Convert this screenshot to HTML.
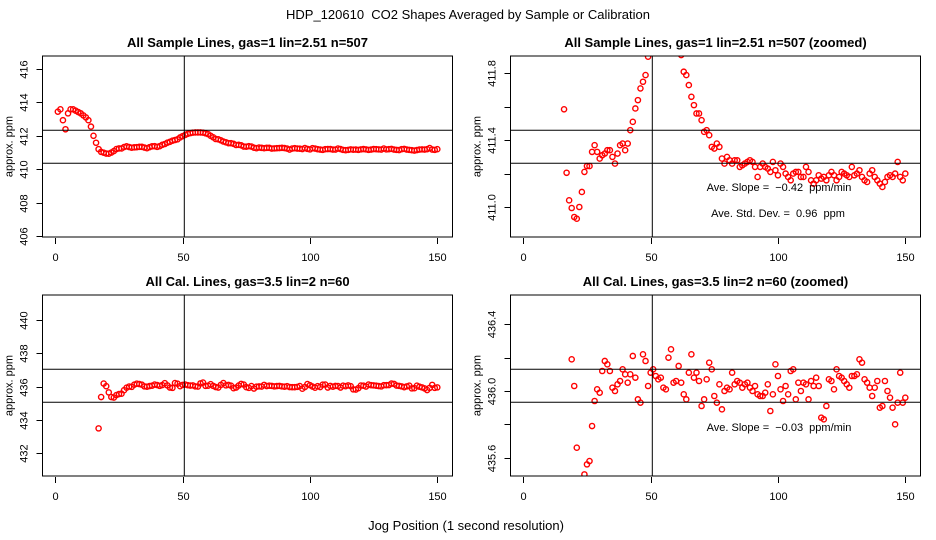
<!DOCTYPE html>
<html><head><meta charset="utf-8"><style>
html,body{margin:0;padding:0;background:#fff;width:936px;height:540px;overflow:hidden;}
svg{display:block;font-family:"Liberation Sans",sans-serif;}
text{white-space:pre;}
</style></head><body>
<svg id="chart" width="936" height="540" viewBox="0 0 936 540" xmlns="http://www.w3.org/2000/svg">
<text x="468" y="19" font-size="13" text-anchor="middle" xml:space="preserve">HDP_120610  CO2 Shapes Averaged by Sample or Calibration</text>
<text x="466" y="530" font-size="13" text-anchor="middle">Jog Position (1 second resolution)</text>
</svg>
<script>
const sampleX = [];
for (let i = 1; i <= 150; i++) sampleX.push(i);
const sampleVals = [413.44,413.58,412.93,412.39,413.34,413.58,413.58,413.5,413.42,413.34,413.22,413.1,412.93,412.55,412.0,
411.585,411.205,411.04,410.994,410.94,410.93,411.0,411.09,411.21,411.245,411.245,411.33,411.37,411.33,411.29,411.31,411.32,411.34,411.34,411.30,411.26,411.32,411.37,411.38,411.34,411.38,411.46,411.51,411.59,411.64,411.71,411.75,411.79,411.90,
411.98,412.05,412.12,412.16,412.19,412.2,412.2,412.2,412.19,412.15,412.1,412.0,
411.91,411.81,411.79,411.73,411.66,411.61,411.56,411.56,411.52,411.45,411.46,411.43,411.36,411.35,411.38,411.36,411.29,411.26,411.30,411.28,411.26,411.28,411.28,411.24,411.25,411.26,411.27,411.28,411.27,411.24,411.18,411.24,411.26,411.24,411.23,411.21,411.27,411.22,411.19,411.26,411.24,411.20,411.18,411.16,411.20,411.21,411.21,411.18,411.18,411.24,411.21,411.16,411.14,411.16,411.19,411.17,411.18,411.16,411.19,411.21,411.19,411.16,411.18,411.21,411.20,411.19,411.18,411.24,411.19,411.20,411.22,411.18,411.16,411.15,411.20,411.22,411.18,411.16,411.14,411.12,411.15,411.18,411.19,411.18,411.20,411.27,411.18,411.16,411.20];
const calX = [];
for (let i = 17; i <= 150; i++) calX.push(i);
const calVals = [433.5,435.38,436.19,436.03,435.66,435.38,435.35,435.50,435.56,435.58,435.79,435.94,436.01,435.99,436.12,436.18,436.16,436.12,436.02,436.0,436.04,436.06,436.13,436.10,436.05,436.10,436.21,436.08,435.95,435.93,436.22,436.18,436.03,436.11,436.13,436.09,436.07,436.08,436.02,436.01,436.20,436.25,436.05,436.06,436.15,436.05,435.98,435.95,436.11,436.22,436.08,436.11,436.06,435.91,435.95,436.07,436.17,436.13,435.97,435.93,436.04,435.89,436.0,436.02,436.01,436.11,436.04,436.06,436.05,436.02,436.04,436.05,436.02,436.0,436.03,435.98,435.97,435.97,435.99,436.04,435.88,435.98,436.16,436.09,436.01,435.94,436.03,435.98,436.12,436.13,435.95,436.05,436.0,436.05,436.04,435.95,436.06,436.03,436.08,436.03,435.84,435.83,435.91,436.07,436.06,436.01,436.13,436.09,436.08,436.06,436.04,436.02,436.09,436.09,436.10,436.19,436.17,436.07,436.05,436.02,435.97,436.02,436.06,435.90,435.91,436.06,436.0,435.96,435.90,435.80,435.93,436.11,435.93,435.96];
const xTicks = [0,50,100,150];
const tlTicks = [406,408,410,412,414,416];
const trTicks = [411.0,411.2,411.4,411.6,411.8];
const trLabels = ["411.0","","411.4","","411.8"];
const blTicks = [432,434,436,438,440];
const brTicks = [435.6,435.8,436.0,436.2,436.4];
const brLabels = ["435.6","","436.0","","436.4"];

const NS = "http://www.w3.org/2000/svg";
const svg = document.getElementById('chart');
function mk(tag, attrs, parent) {
  const e = document.createElementNS(NS, tag);
  for (const k in attrs) e.setAttribute(k, attrs[k]);
  (parent || svg).appendChild(e);
  return e;
}
const panels = [
  {id:'sample', L:42.5, R:452.5, T:56, B:237, x0:55.3, v0:406, y0:236.3, k:16.75, ticks:tlTicks, labels:tlTicks.map(String), xs:sampleX, vals:sampleVals, hl:[130.3,163.3], vl:184.3,
   title:'All Sample Lines, gas=1 lin=2.51 n=507', notes:[]},
  {id:'sample-zoomed', L:510.5, R:920.5, T:56, B:237, x0:523.3, v0:411.0, y0:207, k:167, ticks:trTicks, labels:trLabels, xs:sampleX, vals:sampleVals, hl:[130.3,163.3], vl:652.3,
   title:'All Sample Lines, gas=1 lin=2.51 n=507 (zoomed)', notes:[['Ave. Slope =  \u22120.42  ppm/min',779,191],['Ave. Std. Dev. =  0.96  ppm',778,217]]},
  {id:'cal', L:42.5, R:452.5, T:295, B:476, x0:55.3, v0:436, y0:386.7, k:16.67, ticks:blTicks, labels:blTicks.map(String), xs:calX, vals:calVals, hl:[369.3,402.3], vl:184.3,
   title:'All Cal. Lines, gas=3.5 lin=2 n=60', notes:[]},
  {id:'cal-zoomed', L:510.5, R:920.5, T:295, B:476, x0:523.3, v0:436.0, y0:391, k:166.75, ticks:brTicks, labels:brLabels, xs:calX, vals:calVals, hl:[369.3,402.3], vl:652.3,
   title:'All Cal. Lines, gas=3.5 lin=2 n=60 (zoomed)', notes:[['Ave. Slope =  \u22120.03  ppm/min',779,431]]}
];
const xk = 2.5467;
panels.forEach((p, pi) => {
  const g = mk('g', {});
  
  
  const xS = v => p.x0 + v * xk;
  const yS = v => p.y0 - (v - p.v0) * p.k;
  const t = mk('text', {x:(p.L+p.R)/2, y:p.T-9, 'font-size':13, 'font-weight':'bold', 'text-anchor':'middle'}, g);
  t.textContent = p.title;
  
  
  const clipId = 'clip' + pi;
  const cp = mk('clipPath', {id:clipId}, g);
  mk('rect', {x:p.L, y:p.T, width:p.R-p.L, height:p.B-p.T}, cp);
  const pts = mk('g', {'clip-path':'url(#'+clipId+')'}, g);
  p.xs.forEach((xv, i) => {
    const c = mk('circle', {cx:xS(xv), cy:yS(p.vals[i]), r:2.6, fill:'none', stroke:'#ff0000', 'stroke-width':1.4}, pts);
    
    
  });
  const fr = mk('rect', {x:p.L, y:p.T, width:p.R-p.L, height:p.B-p.T, fill:'none', stroke:'#000', 'stroke-width':1}, g);
  
  
  p.hl.forEach(y => {
    const l = mk('line', {x1:p.L, x2:p.R, y1:y, y2:y, stroke:'#000', 'stroke-width':1}, g);
    
    
  });
  const vl = mk('line', {x1:p.vl, x2:p.vl, y1:p.T, y2:p.B, stroke:'#000', 'stroke-width':1}, g);
  
  
  xTicks.forEach(xv => {
    const x = Math.round(xS(xv)) + 0.5;
    mk('line', {x1:x, x2:x, y1:p.B+1, y2:p.B+7, stroke:'#000'}, g);
    const tl = mk('text', {x:x, y:p.B+24, 'font-size':11, 'text-anchor':'middle'}, g);
    tl.textContent = xv;
    
    
  });
  p.ticks.forEach((v, i) => {
    const y = Math.round(yS(v)) + 0.5;
    mk('line', {x1:p.L-6, x2:p.L, y1:y, y2:y, stroke:'#000'}, g);
    if (p.labels[i]) {
      const lx = p.L - 15;
      const tl = mk('text', {x:lx, y:y, 'font-size':11, 'text-anchor':'middle', transform:'rotate(-90 '+lx+' '+y+')'}, g);
      tl.textContent = p.labels[i];
      
      
    }
  });
  const ax = p.L - 30, ay = (p.T + p.B) / 2;
  const yt = mk('text', {x:ax, y:ay, 'font-size':11, 'text-anchor':'middle', transform:'rotate(-90 '+ax+' '+ay+')'}, g);
  yt.textContent = 'approx. ppm';
  
  
  p.notes.forEach(n => {
    const nt = mk('text', {x:n[1], y:n[2], 'font-size':11, 'text-anchor':'middle'}, g);
    nt.textContent = n[0];
    
    
  });
});
</script>
</body></html>
